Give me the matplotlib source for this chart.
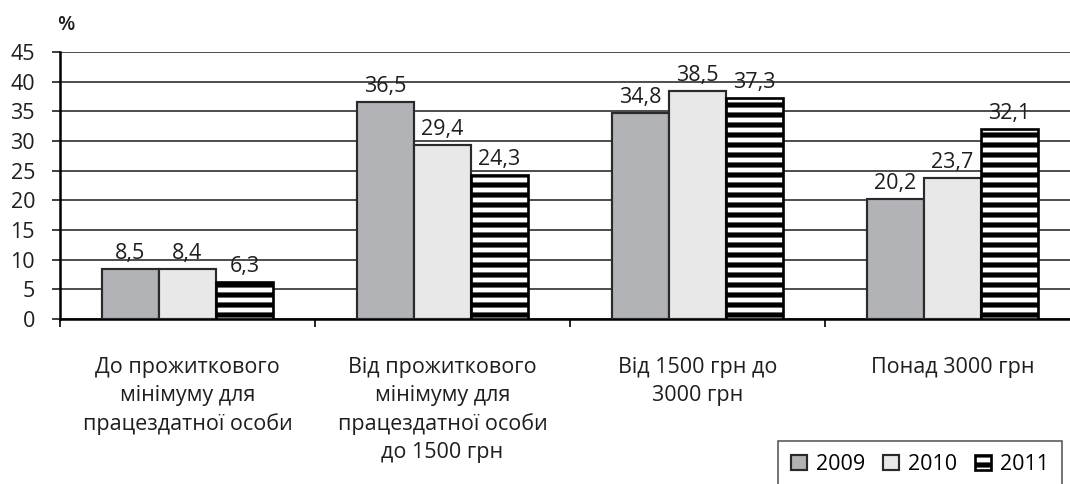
import numpy as np
import matplotlib
matplotlib.use("Agg")
from matplotlib import pyplot as plt

categories = [
    "До прожиткового\nмінімуму для\nпрацездатної особи",
    "Від прожиткового\nмінімуму для\nпрацездатної особи\nдо 1500 грн",
    "Від 1500 грн до\n3000 грн",
    "Понад 3000 грн",
]
years = ["2009", "2010", "2011"]
v2009 = [8.5, 36.5, 34.8, 20.2]
v2010 = [8.4, 29.4, 38.5, 23.7]
v2011 = [6.3, 24.3, 37.3, 32.1]
yticks = [0, 5, 10, 15, 20, 25, 30, 35, 40, 45]


def fmt(v):
    return f"{v:.1f}".replace(".", ",")


def main():
    plt.rcParams['font.family'] = ['Open Sans', 'DejaVu Sans']
    plt.rcParams['hatch.linewidth'] = 3.1
    plt.rcParams['hatch.color'] = 'black'

    W, H, DPI = 1070, 484, 120
    fs = 12.9
    txt = "#1e1e1e"
    fig = plt.figure(figsize=(W / DPI, H / DPI), dpi=DPI)
    ax = fig.add_axes([60 / W, (H - 319) / H, (1080 - 60) / W, (319 - 52) / H])

    x = np.arange(len(categories))
    w = 0.224
    styles = [
        dict(color="#b2b3b6", edgecolor="#2a2a2a", linewidth=1.3),
        dict(color="#e8e8e8", edgecolor="#2a2a2a", linewidth=1.3),
        dict(color="white", edgecolor="black", hatch="--", linewidth=1.6),
    ]
    series = [v2009, v2010, v2011]
    for i, (vals, st) in enumerate(zip(series, styles)):
        bars = ax.bar(x + (i - 1) * w, vals, w, label=years[i], zorder=3, **st)
        ax.bar_label(bars, labels=[fmt(v) for v in vals], padding=3,
                     fontsize=fs, color=txt)

    ax.set_xlim(-0.5, len(categories) - 0.5)
    ax.set_ylim(0, 45)
    ax.set_yticks(yticks)
    ax.tick_params(axis='y', labelsize=fs, length=5, width=1.0,
                   pad=10, colors=txt)
    ax.yaxis.grid(True, color="#4a4a4a", linewidth=1.15, zorder=0)
    ax.set_axisbelow(True)

    ax.set_xticks(np.arange(-0.5, len(categories), 1.0))
    ax.set_xticklabels([])
    ax.tick_params(axis='x', length=5, width=1.0, direction='out')
    ax.set_xticks(x, minor=True)
    ax.set_xticklabels(categories, minor=True, fontsize=fs,
                       linespacing=1.42, color=txt, va='top')
    ax.tick_params(axis='x', which='minor', length=0, pad=23)

    for s in ["top", "right"]:
        ax.spines[s].set_visible(False)
    ax.spines["left"].set_linewidth(1.5)
    ax.spines["bottom"].set_linewidth(1.5)

    fig.text(66 / W, 1 - 25 / H, "%", fontsize=12, ha='center', va='center',
             color=txt, fontweight='semibold')

    fig.legend(loc='upper left', bbox_to_anchor=(778 / W, 1 - 441 / H),
               ncol=3, fontsize=fs, frameon=True, fancybox=False,
               edgecolor="#333333", handlelength=0.75, handleheight=0.75,
               handletextpad=0.4, columnspacing=0.85, borderpad=0.6,
               borderaxespad=0)

    fig.savefig("out.png", dpi=DPI)


if __name__ == "__main__":
    main()
